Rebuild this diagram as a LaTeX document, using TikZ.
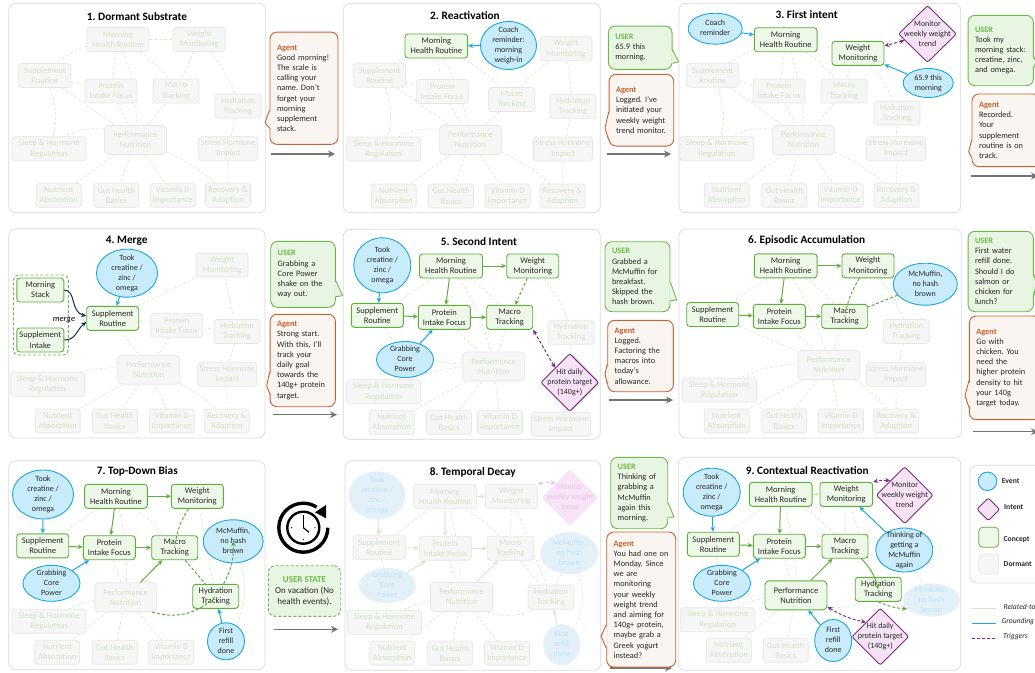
\documentclass[tikz,border=0pt]{standalone}
\usepackage{fontspec}
\setmainfont{Carlito}
\usepackage{tikz}
\usetikzlibrary{shapes.geometric, arrows, arrows.meta, calc}
\pgfdeclarelayer{bg}
\pgfsetlayers{bg,main}
\definecolor{dormfill}{HTML}{F6F6F6}
\definecolor{dormline}{HTML}{E6E6E6}
\definecolor{dormtext}{HTML}{D2E3C8}
\definecolor{relline}{HTML}{D3E9C6}
\definecolor{concfill}{HTML}{EEF8E8}
\definecolor{concline}{HTML}{5DAE3C}
\definecolor{evfill}{HTML}{C9ECFB}
\definecolor{evline}{HTML}{1CA5DE}
\definecolor{infill}{HTML}{F6E2F5}
\definecolor{inline}{HTML}{7A2A82}
\definecolor{fadefill}{HTML}{E4F0F8}
\definecolor{fadetext}{HTML}{BDE3F7}
\definecolor{fadeinfill}{HTML}{F8E4F7}
\definecolor{fadeintext}{HTML}{E8C3E8}
\definecolor{agentfill}{HTML}{FBF5F1}
\definecolor{agentline}{HTML}{C8602F}
\definecolor{userfill}{HTML}{E9F5E3}
\definecolor{userline}{HTML}{6DB84A}
\definecolor{mergeline}{HTML}{0F2D4A}
\newcommand{\nodefont}{\fontsize{8.5}{10.2}\selectfont}
\newcommand{\evfont}{\fontsize{8}{10}\selectfont}
\newcommand{\bubfont}{\fontsize{8.3}{10.2}\selectfont}
\newcommand{\dtxt}[1]{\makebox[0pt]{\smash{\raisebox{-2pt}{\begin{tabular}[c]{@{}c@{}}#1\end{tabular}}}}}
\newcommand{\agenttag}{\textbf{\textcolor{agentline}{Agent}}}
\newcommand{\usertag}{\textbf{\textcolor{userline}{USER}}}
\newcommand{\bubtail}[6]{%
  \fill[#1fill] ($(#2 |- 0,#3)+(#6,0)$) -- #4 -- ($(#2 |- 0,#5)+(#6,0)$) -- cycle;
  \draw[#1line, line width=.9pt] (#2 |- 0,#3) -- #4 -- (#2 |- 0,#5);}
\tikzset{wd/.style={minimum width=#1}, sz/.style 2 args={minimum width=#1, minimum height=#2}}
\tikzstyle{boxbase} = [rectangle, rounded corners=3pt, line width=.7pt, minimum height=24pt, inner sep=0pt, align=center, font=\nodefont]
\tikzstyle{dormant} = [boxbase, draw=dormline, fill=dormfill, text=dormtext]
\tikzstyle{concept} = [boxbase, line width=.9pt, draw=concline, fill=concfill, text=black!85]
\tikzstyle{tall} = [minimum height=29pt, rounded corners=4pt]
\tikzstyle{event} = [ellipse, draw=evline, fill=evfill, line width=.9pt, inner sep=0pt, font=\evfont, text=black!85]
\tikzstyle{fadeev} = [ellipse, fill=fadefill, text=fadetext, inner sep=0pt, font=\evfont]
\tikzstyle{intent} = [diamond, rounded corners=2pt, draw=inline, fill=infill, line width=.9pt, inner sep=0pt, font=\evfont, text=black!85]
\tikzstyle{fadein} = [diamond, rounded corners=2pt, fill=fadeinfill, text=fadeintext, inner sep=0pt, font=\evfont]
\tikzstyle{rel} = [densely dashed, line width=.6pt, draw=relline]
\tikzstyle{ground} = [->,>={Stealth[length=5pt,width=4.5pt]}, line width=1pt, draw=evline]
\tikzstyle{link} = [->,>={Stealth[length=5pt,width=4.5pt]}, line width=1pt, draw=concline]
\tikzstyle{linkdash} = [densely dashed, line width=1pt, draw=concline]
\tikzstyle{fadelink} = [->,>={Stealth[length=5pt,width=4.5pt]}, line width=.9pt, draw=relline]
\tikzstyle{trig} = [<->,>={Stealth[length=5pt,width=4.5pt]}, densely dashed, line width=1pt, draw=inline]
\tikzstyle{fadetrig} = [<->,>={Stealth[length=5pt,width=4.5pt]}, densely dashed, line width=.9pt, draw=fadeintext]
\tikzstyle{mergearrow} = [->,>={Stealth[length=5pt,width=4.5pt]}, line width=1pt, draw=mergeline]
\tikzstyle{flow} = [-{Stealth[length=7pt,width=7pt]}, line width=1.1pt, draw=black!55]
\tikzstyle{panel} = [rounded corners=7pt, draw=black!15, line width=.7pt]
\tikzstyle{paneltitle} = [font=\fontsize{11.3}{12}\selectfont\bfseries, inner sep=0pt]
\tikzstyle{agentbub} = [rectangle, rounded corners=7pt, draw=agentline, fill=agentfill, line width=.9pt, inner xsep=7pt, inner ysep=0pt, align=left, font=\bubfont, text=black!85]
\tikzstyle{userbub} = [rectangle, rounded corners=7pt, draw=userline, fill=userfill, line width=.9pt, inner xsep=7pt, inner ysep=0pt, align=left, font=\bubfont, text=black!85]
\tikzstyle{legendtext} = [font=\fontsize{7.6}{8}\selectfont\bfseries, inner sep=0pt, anchor=west, text=black!85]
\tikzstyle{legenditalic} = [font=\fontsize{7.6}{8}\selectfont\itshape, inner sep=0pt, anchor=west, text=black!85]
\begin{document}
\frenchspacing
\begin{tikzpicture}[x=1pt, y=-1pt]
\useasboundingbox (0,0) rectangle (1035,672);

% panel 1
\begin{scope}[name prefix=a-]
\draw [panel] (8.7,3.3) rectangle (265.7,212.7);
\node (title) [paneltitle] at (137,16.3) {1. Dormant Substrate};
\node (mhr) [dormant, wd=62] at (118,39.5) {Morning\\Health Routine};
\node (wm) [dormant, wd=52] at (199.3,39.5) {Weight\\Monitoring};
\node (sr) [dormant, wd=52] at (44.8,75.5) {Supplement\\Routine};
\node (pif) [dormant, wd=52] at (111,91) {Protein\\Intake Focus};
\node (mt) [dormant, wd=46] at (176,91) {Macro\\Tracking};
\node (ht) [dormant, wd=46] at (238,106) {Hydration\\Tracking};
\node (pn) [dormant, tall, wd=62] at (135.5,140) {Performance\\Nutrition};
\node (shr) [dormant, wd=74] at (49,148.7) {Sleep \& Hormone\\Regulation};
\node (shi) [dormant, wd=59] at (228.3,148.7) {Stress Hormone\\Impact};
\node (na) [dormant, wd=45] at (58.7,195.3) {Nutrient\\Absorption};
\node (gh) [dormant, wd=45] at (116.3,195.3) {Gut Health\\Basics};
\node (vd) [dormant, wd=45] at (172.7,195.3) {Vitamin D\\Importance};
\node (ra) [dormant, wd=45] at (228,195.3) {Recovery \&\\Adaption};
\begin{pgfonlayer}{bg}
\draw [rel] (mhr) -- (wm) (mhr) to [bend right=15] (sr) (mhr) -- (pif) (mhr) to [bend left=12] (pn) (mhr) to [bend left=12] (mt);
\draw [rel] (wm) -- (mt) (wm) to [bend left=12] (ht) (sr) -- (pif) (sr) -- (pn) (sr) to [bend left=20] (shr) (pif) -- (pn) (mt) -- (pn) (ht) -- (shi);
\draw [rel] (pn) to [bend right=25] (shr) (pn) -- (na) (pn) -- (gh) (pn) -- (vd) (pn) to [bend left=10] (ra) (shi) -- (ra);
\end{pgfonlayer}
\end{scope}
\node (ag1) [agentbub, text width=54pt, minimum height=112.3pt] at (304,88.2) {\agenttag\\Good morning!\\The scale is\\calling your\\name. Don't\\forget your\\morning\\supplement\\stack.};
\bubtail{agent}{ag1.west}{110}{(265,122.7)}{128.3}{1.2}
\coordinate (fa1) at (271,154);
\coordinate (fb1) at (335,154);
\draw [flow] (fa1) -- (fb1);

% panel 2
\begin{scope}[name prefix=b-]
\draw [panel] (343.3,3.3) rectangle (600.3,212.7);
\node (title) [paneltitle] at (465,15.3) {2. Reactivation};
\node (mhr) [concept, wd=62.7] at (436.3,46) {Morning\\Health Routine};
\node (coach) [event, sz={56}{48}] at (508.5,45.5) {\dtxt{Coach\\reminder:\\morning\\weigh-in}};
\node (wm) [dormant, wd=52] at (566,48.7) {Weight\\Monitoring};
\node (sr) [dormant, wd=52] at (379.7,75.2) {Supplement\\Routine};
\node (pif) [dormant, wd=52] at (442.3,91.5) {Protein\\Intake Focus};
\node (mt) [dormant, wd=46] at (511.7,99.5) {Macro\\Tracking};
\node (ht) [dormant, wd=46] at (573,106.3) {Hydration\\Tracking};
\node (pn) [dormant, tall, wd=62] at (470.3,140) {Performance\\Nutrition};
\node (shr) [dormant, wd=74] at (383.7,149) {Sleep \& Hormone\\Regulation};
\node (shi) [dormant, wd=59] at (563,149) {Stress Hormone\\Impact};
\node (na) [dormant, wd=45] at (393.7,196) {Nutrient\\Absorption};
\node (gh) [dormant, wd=45] at (451,196) {Gut Health\\Basics};
\node (vd) [dormant, wd=45] at (507.7,196) {Vitamin D\\Importance};
\node (ra) [dormant, wd=45] at (562.5,196) {Recovery \&\\Adaption};
\draw [ground] (coach) -- (mhr);
\begin{pgfonlayer}{bg}
\draw [rel] (mhr) to [bend right=8] (sr) (mhr) -- (pif) (mhr) to [bend left=10] (pn) (mhr) to [bend left=10] (mt);
\draw [rel] (wm) to [bend right=8] (mt) (wm) -- (ht) (sr) -- (pif) (sr) -- (pn) (sr) to [bend left=20] (shr) (pif) -- (pn) (mt) -- (pn) (ht) -- (shi);
\draw [rel] (pn) to [bend right=25] (shr) (pn) -- (na) (pn) -- (gh) (pn) -- (vd) (pn) to [bend left=10] (ra) (shi) -- (ra);
\end{pgfonlayer}
\end{scope}
\node (us2) [userbub, text width=49.7pt, minimum height=43.3pt] at (640.2,47.7) {\usertag\\65.9 this\\morning.};
\bubtail{user}{us2.east}{50}{(678.7,61.7)}{63.3}{-1.2}
\node (ag2) [agentbub, text width=50.7pt, minimum height=71.7pt] at (641.4,110.2) {\agenttag\\Logged. I've\\initiated your\\weekly weight\\trend monitor.};
\bubtail{agent}{ag2.west}{112}{(605,128)}{140}{1.2}
\coordinate (fa2) at (607.3,154);
\coordinate (fb2) at (671,154);
\draw [flow] (fa2) -- (fb2);

% panel 3
\begin{scope}[name prefix=c-]
\draw [panel] (679,3.3) rectangle (960.7,212.7);
\node (title) [paneltitle] at (806.7,14.3) {3. First intent};
\node (coach) [event, sz={54}{31}] at (715.2,28.7) {\dtxt{Coach\\reminder}};
\node (mhr) [concept, wd=62.7] at (785.7,39.7) {Morning\\Health Routine};
\node (wm) [concept, wd=52] at (858,53.3) {Weight\\Monitoring};
\node (mon) [intent, sz={58}{57}] at (927.5,34) {\dtxt{Monitor\\weekly weight\\trend}};
\node (obs) [event, sz={50}{29}] at (928.2,83) {\dtxt{65.9 this\\morning}};
\node (sr) [dormant, wd=52] at (712.7,75.2) {Supplement\\Routine};
\node (pif) [dormant, wd=52] at (779,91) {Protein\\Intake Focus};
\node (mt) [dormant, wd=46] at (844,91) {Macro\\Tracking};
\node (ht) [dormant, wd=46] at (897,113) {Hydration\\Tracking};
\node (pn) [dormant, tall, wd=62] at (803.3,140) {Performance\\Nutrition};
\node (shr) [dormant, wd=74] at (716.8,148.7) {Sleep \& Hormone\\Regulation};
\node (shi) [dormant, wd=59] at (896,148.7) {Stress Hormone\\Impact};
\node (na) [dormant, wd=45] at (726.7,195.3) {Nutrient\\Absorption};
\node (gh) [dormant, wd=45] at (784.3,195.3) {Gut Health\\Basics};
\node (vd) [dormant, wd=45] at (840.7,195.3) {Vitamin D\\Importance};
\node (ra) [dormant, wd=45] at (896.5,195.3) {Recovery \&\\Adaption};
\draw [ground] (coach) -- (mhr);
\draw [ground] (obs) -- (wm);
\draw [trig] (mon) -- (wm);
\begin{pgfonlayer}{bg}
\draw [rel] (mhr) -- (wm) (mhr) to [bend right=8] (sr) (mhr) -- (pif) (mhr) to [bend left=10] (pn) (mhr) to [bend left=10] (mt);
\draw [rel] (wm) to [bend right=8] (mt) (wm) to [bend left=12] (ht) (sr) -- (pif) (sr) -- (pn) (sr) to [bend left=20] (shr) (pif) -- (pn) (mt) -- (pn) (ht) -- (shi);
\draw [rel] (pn) to [bend right=25] (shr) (pn) -- (na) (pn) -- (gh) (pn) -- (vd) (pn) to [bend left=10] (ra) (shi) -- (ra);
\end{pgfonlayer}
\end{scope}
\node (us3) [userbub, text width=51.3pt, minimum height=70.4pt] at (1000.7,50.5) {\usertag\\Took my\\morning stack:\\creatine, zinc,\\and omega.};
\bubtail{user}{us3.east}{57}{(1036,62)}{68}{-1.2}
\node (ag3) [agentbub, text width=54pt, minimum height=72.7pt] at (1006,130.3) {\agenttag\\Recorded.\\Your\\supplement\\routine is on\\track.};
\bubtail{agent}{ag3.west}{140}{(968.7,151.7)}{158}{1.2}
\coordinate (fa3) at (971,176);
\coordinate (fb3) at (1038,176);
\draw [flow] (fa3) -- (fb3);

% panel 4
\begin{scope}[name prefix=d-]
\draw [panel] (8.7,228.7) rectangle (265,438);
\node (title) [paneltitle] at (126.7,240.3) {4. Merge};
\node (mg) [rectangle, rounded corners=5pt, densely dashed, draw=userline, line width=.9pt, sz={55}{80}] at (40.8,315) {};
\node (took) [event, sz={61}{48}] at (127,273.2) {\dtxt{Took\\creatine /\\zinc /\\omega}};
\node (wm) [dormant, wd=52] at (222,265) {Weight\\Monitoring};
\node (ms) [concept, wd=47] at (40.3,290) {Morning\\Stack};
\node (si) [concept, wd=47] at (40.3,340) {Supplement\\Intake};
\node (mlab) [font=\nodefont\itshape, inner sep=0pt] at (64,319.7) {merge};
\node (sr) [concept, wd=52] at (112.7,318.3) {Supplement\\Routine};
\node (pif) [dormant, wd=52] at (176.7,325.3) {Protein\\Intake Focus};
\node (ht) [dormant, wd=46] at (237,331.5) {Hydration\\Tracking};
\node (pn) [dormant, tall, wd=62] at (148.7,369.7) {Performance\\Nutrition};
\node (shr) [dormant, wd=74] at (47.5,384.3) {Sleep \& Hormone\\Regulation};
\node (shi) [dormant, wd=59] at (227.3,374.3) {Stress Hormone\\Impact};
\node (na) [dormant, wd=45] at (57.7,421) {Nutrient\\Absorption};
\node (gh) [dormant, wd=45] at (115,421) {Gut Health\\Basics};
\node (vd) [dormant, wd=45] at (171.7,421) {Vitamin D\\Importance};
\node (ra) [dormant, wd=45] at (226.7,421) {Recovery \&\\Adaption};
\draw [ground] (took) -- (sr);
\draw [mergearrow] (ms.east) .. controls +(12,0) and +(-16,-4) .. (sr.175);
\draw [mergearrow] (si.east) .. controls +(12,0) and +(-10,8) .. (sr.188);
\begin{pgfonlayer}{bg}
\draw [rel] (sr) -- (wm) (sr) -- (pif) (pif) -- (ht) (wm) -- (ht) (sr) -- (pn) (pif) -- (pn) (ht) -- (shi);
\draw [rel] (pn) to [bend right=12] (shr) (pn) -- (na) (pn) -- (gh) (pn) -- (vd) (pn) to [bend left=10] (ra) (shi) -- (ra);
\end{pgfonlayer}
\end{scope}
\node (us4) [userbub, text width=50.6pt, minimum height=66pt] at (303,274.3) {\usertag\\Grabbing a\\Core Power\\shake on the\\way out.};
\bubtail{user}{us4.east}{280.7}{(342.7,295.7)}{296.7}{-1.2}
\node (ag4) [agentbub, text width=51.3pt, minimum height=92.4pt] at (302.7,360.5) {\agenttag\\Strong start.\\With this, I'll\\track your\\daily goal\\towards the\\140g+ protein\\target.};
\bubtail{agent}{ag4.west}{372.3}{(266.7,385.7)}{394}{1.2}
\coordinate (fa4) at (273.3,414.7);
\coordinate (fb4) at (337,414.7);
\draw [flow] (fa4) -- (fb4);

% panel 5
\begin{scope}[name prefix=e-]
\draw [panel] (343.3,229.3) rectangle (600.3,439.3);
\node (title) [paneltitle] at (479,241.3) {5. Second Intent};
\node (took) [event, sz={57}{55}] at (382.3,265.3) {\dtxt{Took\\creatine /\\zinc /\\omega}};
\node (mhr) [concept, wd=63] at (451,266) {Morning\\Health Routine};
\node (wm) [concept, wd=52] at (532.7,266) {Weight\\Monitoring};
\node (sr) [concept, wd=52] at (377.3,315.3) {Supplement\\Routine};
\node (pif) [concept, wd=52] at (444.3,317.3) {Protein\\Intake Focus};
\node (mt) [concept, wd=46] at (509.7,317.3) {Macro\\Tracking};
\node (core) [event, sz={57}{36}] at (405,359.5) {\dtxt{Grabbing\\Core\\Power}};
\node (ht) [dormant, wd=46] at (571,332.3) {Hydration\\Tracking};
\node (pn) [dormant, tall, wd=62] at (493.7,366.5) {Performance\\Nutrition};
\node (hit) [intent, sz={58}{58}] at (569.8,382.5) {\dtxt{Hit daily\\protein target\\(140g+)}};
\node (shr) [dormant, wd=74] at (383.7,391.7) {Sleep \& Hormone\\Regulation};
\node (na) [dormant, wd=45] at (391.7,422.3) {Nutrient\\Absorption};
\node (gh) [dormant, wd=45] at (449,422.3) {Gut Health\\Basics};
\node (vd) [dormant, wd=45] at (500,422.3) {Vitamin D\\Importance};
\node (shi) [dormant, wd=59] at (561,424.3) {Stress Hormone\\Impact};
\draw [ground] (took) -- (sr);
\draw [ground] (core) -- (pif);
\draw [link] (mhr) -- (wm);
\draw [link] (mhr) -- (pif);
\draw [link] (sr) -- (pif);
\draw [link] (pif) -- (mt);
\draw [link, densely dashed] (wm) -- (mt);
\draw [trig] (hit.north west) -- (mt.south east);
\begin{pgfonlayer}{bg}
\draw [rel] (mhr) -- (sr) (mhr) to [bend left=10] (pn) (mhr) to [bend left=8] (mt) (wm) to [bend left=12] (ht) (sr) -- (core) (pif) -- (pn) (mt) -- (pn) (ht) -- (hit);
\draw [rel] (core) -- (pn) (pn) to [bend right=12] (shr) (pn) -- (na) (pn) -- (gh) (pn) -- (vd) (hit) -- (shi);
\end{pgfonlayer}
\end{scope}
\node (us5) [userbub, text width=51pt, minimum height=70pt] at (637.5,276.7) {\usertag\\Grabbed a\\McMuffin for\\breakfast.\\Skipped the\\hash brown.};
\bubtail{user}{us5.east}{282.3}{(676.7,300)}{300.7}{-1.2}
\node (ag5) [agentbub, text width=51.6pt, minimum height=71.4pt] at (640.5,356) {\agenttag\\Logged.\\Factoring the\\macros into\\today's\\allowance.};
\bubtail{agent}{ag5.west}{364}{(605,374)}{384}{1.2}
\coordinate (fa5) at (609.3,400);
\coordinate (fb5) at (673,400);
\draw [flow] (fa5) -- (fb5);

% panel 6
\begin{scope}[name prefix=f-]
\draw [panel] (679,229) rectangle (961.7,438);
\node (title) [paneltitle] at (806.7,240.3) {6. Episodic Accumulation};
\node (mhr) [concept, wd=62.7] at (785.7,265.8) {Morning\\Health Routine};
\node (wm) [concept, wd=52] at (868,265.8) {Weight\\Monitoring};
\node (mcm) [event, sz={64}{42}] at (925.3,284.2) {\dtxt{McMuffin,\\no hash\\brown}};
\node (sr) [concept, wd=52] at (712.7,314.5) {Supplement\\Routine};
\node (pif) [concept, wd=52] at (779.3,316.3) {Protein\\Intake Focus};
\node (mt) [concept, wd=46] at (844.7,316.3) {Macro\\Tracking};
\node (ht) [dormant, wd=46] at (906.3,331.5) {Hydration\\Tracking};
\node (pn) [dormant, tall, wd=62] at (829,365) {Performance\\Nutrition};
\node (shi) [dormant, wd=59] at (896,374.3) {Stress Hormone\\Impact};
\node (shr) [dormant, wd=74] at (719.5,390) {Sleep \& Hormone\\Regulation};
\node (na) [dormant, wd=45] at (726.7,421) {Nutrient\\Absorption};
\node (gh) [dormant, wd=45] at (784.3,421) {Gut Health\\Basics};
\node (vd) [dormant, wd=45] at (841,421) {Vitamin D\\Importance};
\node (ra) [dormant, wd=45] at (896.3,421) {Recovery \&\\Adaption};
\draw [link] (mhr) -- (wm);
\draw [link] (mhr) -- (pif);
\draw [link] (sr) -- (pif);
\draw [link] (pif) -- (mt);
\draw [linkdash] (wm) to [bend right=10] (mt);
\draw [linkdash] (mcm) -- (mt);
\begin{pgfonlayer}{bg}
\draw [rel] (mhr) -- (sr) (mhr) to [bend left=8] (pn) (mhr) to [bend left=8] (mt) (wm) to [bend left=12] (ht) (sr) -- (pn) (pif) -- (pn) (mt) -- (pn) (ht) -- (shi);
\draw [rel] (pn) to [bend right=15] (shr) (pn) -- (na) (pn) -- (gh) (pn) -- (vd) (pn) to [bend left=10] (ra) (shi) -- (ra);
\end{pgfonlayer}
\end{scope}
\node (us6) [userbub, text width=51.3pt, minimum height=80.4pt] at (1000.7,271.5) {\usertag\\First water\\refill done.\\Should I do\\salmon or\\chicken for\\lunch?};
\bubtail{user}{us6.east}{274}{(1036,283)}{296}{-1.2}
\node (ag6) [agentbub, text width=56.7pt, minimum height=103.7pt] at (1004.7,367.8) {\agenttag\\Go with\\chicken. You\\need the\\higher protein\\density to hit\\your 140g\\target today.};
\bubtail{agent}{ag6.west}{380.7}{(965,395.7)}{407.3}{1.2}
\coordinate (fa6) at (973.3,431.7);
\coordinate (fb6) at (1038,431.7);
\draw [flow] (fa6) -- (fb6);

% panel 7
\begin{scope}[name prefix=g-]
\draw [panel] (8.7,460.7) rectangle (265,669.7);
\node (title) [paneltitle] at (137.3,471.3) {7. Top-Down Bias};
\node (took) [event, sz={61}{49}] at (43,494.5) {\dtxt{Took\\creatine /\\zinc /\\omega}};
\node (mhr) [concept, wd=62.7] at (116,496.3) {Morning\\Health Routine};
\node (wm) [concept, wd=52] at (197.3,496.3) {Weight\\Monitoring};
\node (mcm) [event, sz={60}{43}] at (233.2,541.3) {\dtxt{McMuffin,\\no hash\\brown}};
\node (sr) [concept, wd=52] at (42.7,545.8) {Supplement\\Routine};
\node (pif) [concept, wd=52] at (109.3,547.7) {Protein\\Intake Focus};
\node (mt) [concept, wd=46] at (174.7,547.7) {Macro\\Tracking};
\node (core) [event, sz={57}{36}] at (51.5,583.3) {\dtxt{Grabbing\\Core\\Power}};
\node (pn) [dormant, tall, wd=62] at (125.7,597.3) {Performance\\Nutrition};
\node (ht) [concept, wd=46] at (215.7,596.3) {Hydration\\Tracking};
\node (shr) [dormant, wd=74] at (49,621.3) {Sleep \& Hormone\\Regulation};
\node (first) [event, sz={37}{37}] at (226,641.3) {\dtxt{First\\refill\\done}};
\node (na) [dormant, wd=45] at (57.3,652.3) {Nutrient\\Absorption};
\node (gh) [dormant, wd=45] at (114.7,652.3) {Gut Health\\Basics};
\node (vd) [dormant, wd=45] at (171.3,652.3) {Vitamin D\\Importance};
\draw [ground] (took) -- (sr);
\draw [ground] (core) -- (pif);
\draw [ground] (first) -- (ht);
\draw [link] (mhr) -- (wm);
\draw [link] (mhr) -- (pif);
\draw [link] (sr) -- (pif);
\draw [link] (pif) -- (mt);
\draw [link] (pn) -- (mt);
\draw [linkdash] (wm) to [bend right=12] (mt);
\draw [linkdash] (mt) -- (ht);
\draw [linkdash] (pn) to [bend right=30] (ht);
\draw [link, densely dashed] (ht) to [bend right=15] (mcm);
\begin{pgfonlayer}{bg}
\draw [rel] (mhr) -- (sr) (mhr) to [bend left=8] (pn) (mhr) to [bend left=8] (mt) (wm) -- (ht) (mcm) to [bend left=25] (first) (sr) -- (core) (pif) -- (pn);
\draw [rel] (pn) to [bend right=12] (shr) (pn) -- (na) (pn) -- (gh) (pn) -- (vd);
\end{pgfonlayer}
\end{scope}
% clock
\draw [line width=2.4pt] (303.3,527.7) circle (16pt);
\draw [line width=3.4pt] (327.8,527.7) arc [start angle=0, end angle=-303, radius=24.5pt];
\fill (326,505) -- (326,518.3) -- (315,512.3) -- cycle;
\draw [line width=1.2pt] (303.3,527.7) -- (303.3,515);
\draw [line width=1.2pt] (303.3,527.7) -- (309,532.3);
\fill (291.6,527.7) circle (.7pt) (315,527.7) circle (.7pt) (303.3,539.4) circle (.7pt);
\node (state) [rectangle, rounded corners=7pt, densely dashed, draw=userline, fill=userfill, line width=.9pt, sz={72.4}{50.6}, align=center, font=\fontsize{9}{11}\selectfont, text=black!85] at (304.5,591) {\textbf{\textcolor{userline}{USER STATE}}\\On vacation (No\\health events).};
\coordinate (fa7) at (274,629.3);
\coordinate (fb7) at (338,629.3);
\draw [flow] (fa7) -- (fb7);

% panel 8
\begin{scope}[name prefix=h-]
\draw [panel] (345,460.7) rectangle (600.7,670.3);
\node (title) [paneltitle] at (472.7,472.3) {8. Temporal Decay};
\node (took) [fadeev, sz={57}{48}] at (377,495.3) {\dtxt{Took\\creatine /\\zinc /\\omega}};
\node (mhr) [dormant, wd=62.7] at (445,496.3) {Morning\\Health Routine};
\node (wm) [dormant, wd=52] at (511.3,496.3) {Weight\\Monitoring};
\node (mon) [fadein, sz={57}{57}] at (570,497.7) {\dtxt{Monitor\\weekly weight\\trend}};
\node (sr) [dormant, wd=52] at (379.3,547.3) {Supplement\\Routine};
\node (pif) [dormant, wd=52] at (445.3,548.3) {Protein\\Intake Focus};
\node (mt) [dormant, wd=46] at (510.3,548.3) {Macro\\Tracking};
\node (mcm) [fadeev, sz={58}{42}] at (569.3,553.2) {\dtxt{McMuffin,\\no hash\\brown}};
\node (core) [fadeev, sz={57}{35}] at (387.3,585.5) {\dtxt{Grabbing\\Core\\Power}};
\node (pn) [dormant, tall, wd=62] at (461.5,597) {Performance\\Nutrition};
\node (ht) [dormant, wd=46] at (551,597.3) {Hydration\\Tracking};
\node (shr) [dormant, wd=74] at (384.5,622.3) {Sleep \& Hormone\\Regulation};
\node (first) [fadeev, sz={37}{41}] at (561.7,644.7) {\dtxt{First\\refill\\done}};
\node (na) [dormant, wd=45] at (392.2,653.3) {Nutrient\\Absorption};
\node (gh) [dormant, wd=45] at (450.3,653.3) {Gut Health\\Basics};
\node (vd) [dormant, wd=45] at (507,653.3) {Vitamin D\\Importance};
\draw [fadelink] (took) -- (sr);
\draw [fadelink] (core) -- (pif);
\draw [fadelink] (first) -- (ht);
\draw [fadelink] (mhr) -- (wm);
\draw [fadelink] (mhr) -- (pif);
\draw [fadelink] (sr) -- (pif);
\draw [fadelink] (pif) -- (mt);
\draw [fadelink] (pn) -- (mt);
\draw [fadetrig] (wm.north east) to [bend left=10] (mon.north west);
\begin{pgfonlayer}{bg}
\draw [rel] (wm) -- (mt) (mhr) -- (sr) (mhr) to [bend left=8] (pn) (mhr) to [bend left=8] (mt) (wm) -- (ht) (mt) -- (ht) (ht) -- (mcm) (pn) to [bend right=30] (ht) (mcm) to [bend left=30] (first) (sr) -- (core) (pif) -- (pn);
\draw [rel] (pn) to [bend right=12] (shr) (pn) -- (na) (pn) -- (gh) (pn) -- (vd);
\end{pgfonlayer}
\end{scope}
\coordinate (fa8) at (610,668);
\coordinate (fb8) at (672,668);
\draw [flow] (fa8) -- (fb8);
\node (us9) [userbub, text width=43pt, minimum height=71.4pt] at (639.2,493) {\usertag\\Thinking of\\grabbing a\\McMuffin\\again this\\morning.};
\bubtail{user}{us9.east}{503}{(674,517)}{517.3}{-1.2}
\node (ag9) [agentbub, text width=55pt, minimum height=135pt] at (641.2,599.5) {\agenttag\\You had one on\\Monday. Since\\we are\\monitoring\\your weekly\\weight trend\\and aiming for\\140g+ protein,\\maybe grab a\\Greek yogurt\\instead?};
\bubtail{agent}{ag9.west}{624.7}{(601,636.3)}{648}{1.2}

% panel 9
\begin{scope}[name prefix=i-]
\draw [panel] (678.3,457.3) rectangle (960.7,670.3);
\node (title) [paneltitle] at (807.3,470.3) {9. Contextual Reactivation};
\node (took) [event, sz={57}{48}] at (711.7,492.2) {\dtxt{Took\\creatine /\\zinc /\\omega}};
\node (mhr) [concept, wd=62.7] at (780.7,494.3) {Morning\\Health Routine};
\node (wm) [concept, wd=52.7] at (846.3,494.3) {Weight\\Monitoring};
\node (mon) [intent, sz={57}{57}] at (904.7,495.2) {\dtxt{Monitor\\weekly weight\\trend}};
\node (sr) [concept, wd=52] at (713.3,544.2) {Supplement\\Routine};
\node (pif) [concept, wd=52] at (779.3,546.2) {Protein\\Intake Focus};
\node (mt) [concept, wd=46] at (845,546.2) {Macro\\Tracking};
\node (think) [event, sz={57}{44}] at (904.3,550) {\dtxt{Thinking of\\getting a\\McMuffin\\again}};
\node (core) [event, sz={57}{36}] at (722,583.3) {\dtxt{Grabbing\\Core\\Power}};
\node (pn) [concept, tall, wd=62] at (796,595.3) {Performance\\Nutrition};
\node (ht) [concept, wd=46] at (878.2,589.3) {Hydration\\Tracking};
\node (mcm) [fadeev, sz={57}{33}] at (931.5,600) {\dtxt{McMuffin,\\no hash\\brown}};
\node (first) [event, sz={37}{42}] at (833.2,640.5) {\dtxt{First\\refill\\done}};
\node (hit) [intent, sz={57}{57}] at (880.3,636.7) {\dtxt{Hit daily\\protein target\\(140g+)}};
\node (shr) [dormant, wd=74] at (717.7,619.7) {Sleep \& Hormone\\Regulation};
\node (na) [dormant, wd=45] at (728.7,650.3) {Nutrient\\Absorption};
\node (gh) [dormant, wd=45] at (785.7,650.3) {Gut Health\\Basics};
\draw [ground] (took) -- (sr);
\draw [ground] (core) -- (pif);
\draw [ground] (first) -- (pn);
\draw [ground] (think) -- (wm);
\draw [fadelink] (mhr) -- (wm);
\draw [link] (mhr) -- (pif);
\draw [link] (sr) -- (pif);
\draw [link] (pif) -- (mt);
\draw [link] (pn) -- (mt);
\draw [link] (mt) to [bend left=15] (ht);
\draw [link, densely dashed] (ht.south) to [bend right=10] (mcm.200);
\draw [trig] (mon.north west) to [bend right=10] (wm.north east);
\draw [trig] (pn.-20) to [bend right=10] (hit.north west);
\begin{pgfonlayer}{bg}
\draw [rel] (wm) -- (mt) (mhr) -- (sr) (mhr) to [bend left=8] (pn) (mhr) to [bend left=8] (mt) (wm) -- (ht) (think) -- (mcm) (sr) -- (core) (pif) -- (pn) (pn) to [bend right=25] (ht);
\draw [rel] (pn) to [bend right=12] (shr) (pn) -- (na) (pn) -- (gh);
\end{pgfonlayer}
\end{scope}

% legend
\draw [panel] (970,465.3) rectangle (1045,583);
\node (levent) [event, sz={18.5}{18.5}] at (987.5,481.3) {};
\node (lintent) [intent, sz={23}{23}] at (988.3,509.3) {};
\node (lconcept) [boxbase, rounded corners=4pt, draw=concline, fill=concfill, minimum size=20pt] at (988.8,537.2) {};
\node (ldormant) [boxbase, rounded corners=4pt, draw=dormline, fill=dormfill, minimum size=20pt] at (988.8,564) {};
\node (levtxt) [legendtext] at (1001.7,481.3) {Event};
\node (lintxt) [legendtext] at (1004,507.3) {Intent};
\node (lcotxt) [legendtext] at (1003.5,539.3) {Concept};
\node (ldotxt) [legendtext] at (1003.5,564.3) {Dormant};
\coordinate (lra) at (971.7,608.7);
\coordinate (lrb) at (995.7,608.7);
\coordinate (lga) at (971.7,623);
\coordinate (lgb) at (995.7,623);
\coordinate (lta) at (971.7,638);
\coordinate (ltb) at (995.7,638);
\draw [line width=.8pt, draw=relline] (lra) -- (lrb);
\draw [line width=.9pt, draw=evline] (lga) -- (lgb);
\draw [densely dashed, line width=.9pt, draw=inline] (lta) -- (ltb);
\node (lrtxt) [legenditalic] at (1003.3,607.3) {Related-to};
\node (lgtxt) [legenditalic] at (1001.3,622) {Grounding};
\node (lttxt) [legenditalic] at (1003,636.5) {Triggers};
\end{tikzpicture}
\end{document}
